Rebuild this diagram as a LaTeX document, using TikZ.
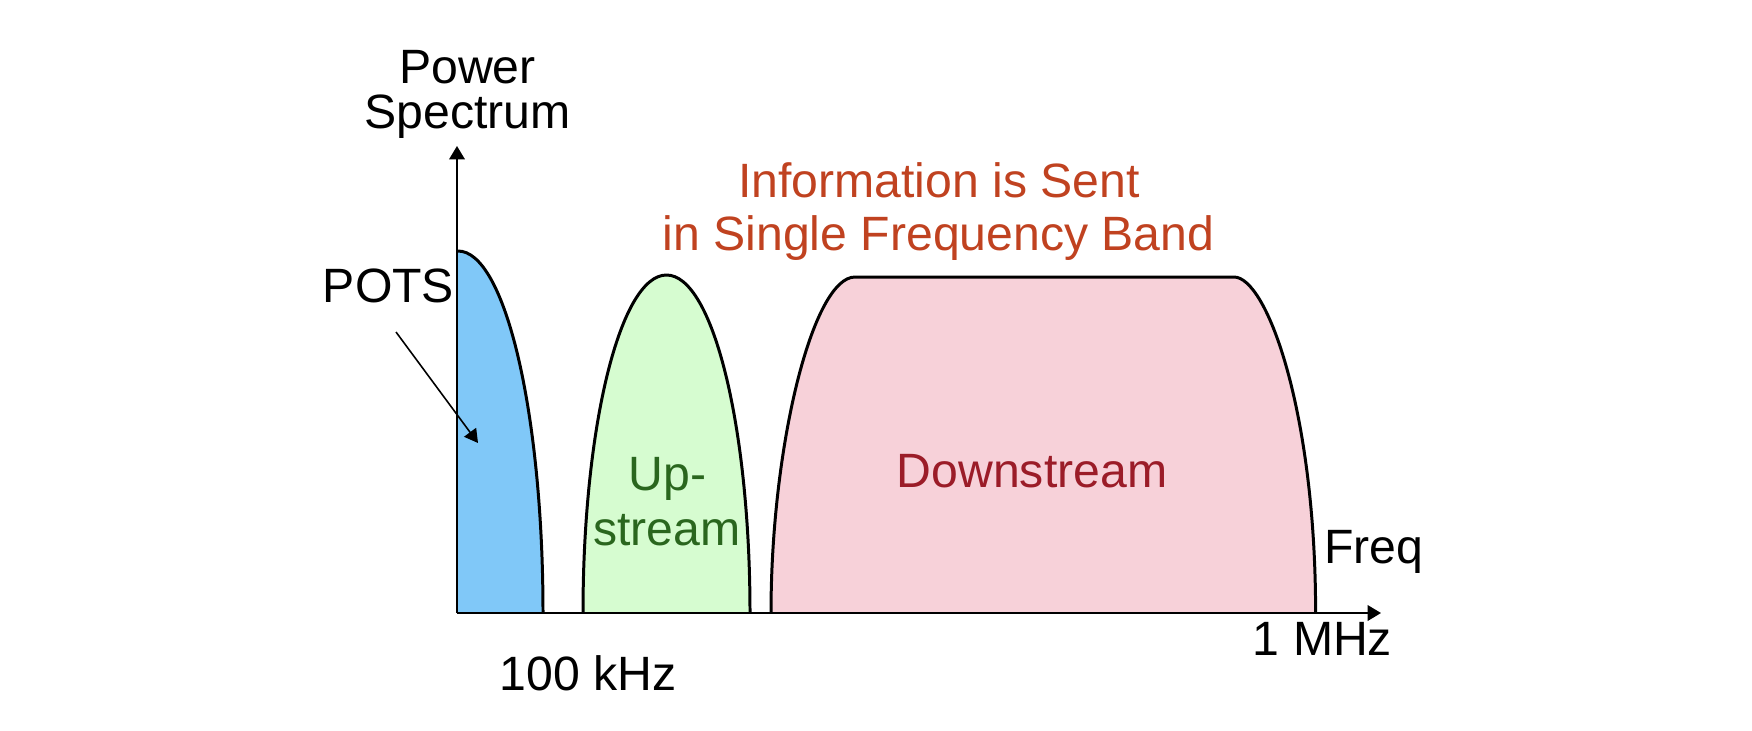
\documentclass[tikz,border=0pt]{standalone}
\usepackage{fontspec}
\setmainfont{Liberation Sans}
\usetikzlibrary{arrows.meta}
\definecolor{potsblue}{RGB}{128,200,248}
\definecolor{upgreen}{RGB}{214,252,208}
\definecolor{downpink}{RGB}{247,209,217}
\definecolor{infored}{RGB}{192,66,32}
\definecolor{downred}{RGB}{155,28,40}
\definecolor{upgreentext}{RGB}{42,102,30}
\tikzset{
  lbl/.style={inner sep=0pt, anchor=base, font=\fontsize{13.7pt}{16pt}\selectfont},
  band/.style={draw=black, line width=0.85pt},
  axis/.style={draw=black, line width=0.6pt, -{Triangle[length=3.8pt,width=4.4pt]}},
  pointer/.style={draw=black, line width=0.45pt, -{Triangle[length=3.8pt,width=4.2pt]}}
}
\begin{document}
\begin{tikzpicture}[x=0.01cm, y=-0.01cm]
\useasboundingbox (0,0) rectangle (1752,730);
% fills
\fill[potsblue] (458,613) -- (458,251) .. controls (505,251) and (543,413) .. (543,613) -- cycle;
\fill[upgreen] (583,613) .. controls (583,426) and (620.4,275) .. (666.5,275) .. controls (712.6,275) and (750,426) .. (750,613) -- cycle;
\fill[downpink] (771,613) .. controls (771,445) and (813,277) .. (855,277) -- (1234,277) .. controls (1266.6,277) and (1315.6,411) .. (1315.6,613) -- cycle;
% outlines
\draw[band] (458,251) .. controls (505,251) and (543,413) .. (543,613);
\draw[band] (583,613) .. controls (583,426) and (620.4,275) .. (666.5,275) .. controls (712.6,275) and (750,426) .. (750,613);
\draw[band] (771,613) .. controls (771,445) and (813,277) .. (855,277) -- (1234,277) .. controls (1266.6,277) and (1315.6,411) .. (1315.6,613);
% axes
\coordinate (O) at (457,613);
\coordinate (ytip) at (457,146);
\coordinate (xtip) at (1381,613);
\draw[axis] (O) -- (ytip);
\draw[axis] (O) -- (xtip);
% labels
\node[lbl] (pw1) at (467.5,83) {Power};
\node[lbl] (pw2) at (467.5,128) {Spectrum};
\node[lbl] (pots) at (388.5,302) {POTS};
\node[lbl, text=infored] (info1) at (939,197) {Information is Sent};
\node[lbl, text=infored] (info2) at (938.5,250) {in Single Frequency Band};
\node[lbl, text=upgreentext] (up1) at (667.5,490) {Up-};
\node[lbl, text=upgreentext] (up2) at (667,545) {stream};
\node[lbl, text=downred] (down) at (1032,487) {Downstream};
\node[lbl] (freq) at (1374,563) {Freq};
\node[lbl] (mhz) at (1322.5,655) {1 MHz};
\node[lbl] (khz) at (588,690) {100 kHz};
% POTS pointer
\coordinate (pstart) at (396,332);
\coordinate (pend) at (478,443);
\draw[pointer] (pstart) -- (pend);
\end{tikzpicture}
\end{document}
